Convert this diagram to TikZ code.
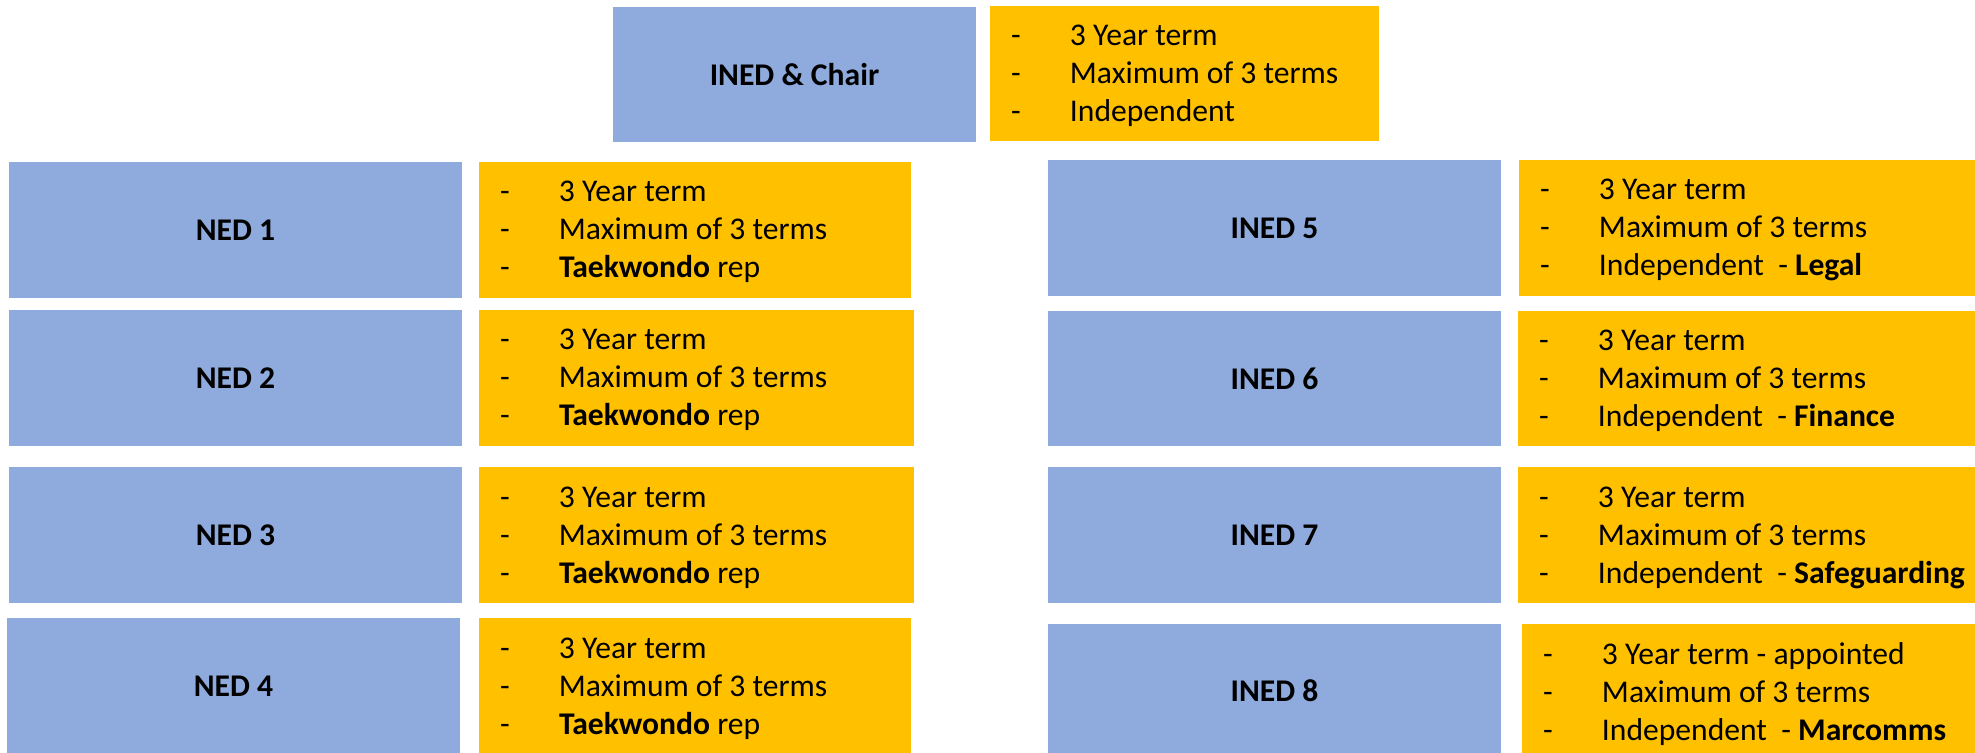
\documentclass[tikz,border=0pt]{standalone}
\usepackage{fontspec}
\setmainfont{Carlito}
\usetikzlibrary{fit,calc}
\definecolor{boxblue}{RGB}{143,170,220}
\definecolor{boxorange}{RGB}{255,192,0}
\newcommand\trio[3]{\begin{tabular}[t]{@{}l@{}l@{}}\makebox[29.5pt][l]{-}&#1\\\makebox[29.5pt][l]{-}&#2\\\makebox[29.5pt][l]{-}&#3\end{tabular}}
\tikzset{
  bluebox/.style={fill=boxblue,draw=none,inner sep=0pt,outer sep=0pt,
    label={[inner sep=0pt,font=\fontsize{15.8pt}{19pt}\selectfont\bfseries]center:#1}},
  orangebox/.style={fill=boxorange,draw=none,inner sep=0pt,outer sep=0pt},
  itemtext/.style={inner sep=0pt,outer sep=0pt,anchor=base west,font=\fontsize{15.8pt}{19pt}\selectfont}
}
\begin{document}
\begin{tikzpicture}[x=0.5pt,y=-0.5pt]
\useasboundingbox[fill=white] (0,0) rectangle (1975,753);
% top
\node[bluebox={INED \& Chair},fit={(613,7) (976,142)}] (chair) {};
\node[orangebox,fit={(990,6) (1379,141)}] (ochair) {};
\node[itemtext] (tchair) at ($(ochair.north west)+(21,40)$) {\trio{3 Year term}{Maximum of 3 terms}{Independent}};
% left column
\node[bluebox={NED 1},fit={(9,162) (462,298)}] (ned1) {};
\node[orangebox,fit={(479,162) (911,298)}] (oned1) {};
\node[itemtext] (tned1) at ($(oned1.north west)+(21,40)$) {\trio{3 Year term}{Maximum of 3 terms}{\textbf{Taekwondo} rep}};
\node[bluebox={NED 2},fit={(9,310) (462,446)}] (ned2) {};
\node[orangebox,fit={(479,310) (914,446)}] (oned2) {};
\node[itemtext] (tned2) at ($(oned2.north west)+(21,40)$) {\trio{3 Year term}{Maximum of 3 terms}{\textbf{Taekwondo} rep}};
\node[bluebox={NED 3},fit={(9,467) (462,603)}] (ned3) {};
\node[orangebox,fit={(479,467) (914,603)}] (oned3) {};
\node[itemtext] (tned3) at ($(oned3.north west)+(21,40)$) {\trio{3 Year term}{Maximum of 3 terms}{\textbf{Taekwondo} rep}};
\node[bluebox={NED 4},fit={(7,618) (460,755)}] (ned4) {};
\node[orangebox,fit={(479,618) (911,755)}] (oned4) {};
\node[itemtext] (tned4) at ($(oned4.north west)+(21,40)$) {\trio{3 Year term}{Maximum of 3 terms}{\textbf{Taekwondo} rep}};
% right column
\node[bluebox={INED 5},fit={(1048,160) (1501,296)}] (ined5) {};
\node[orangebox,fit={(1519,160) (1977,296)}] (oined5) {};
\node[itemtext] (tined5) at ($(oined5.north west)+(21,40)$) {\trio{3 Year term}{Maximum of 3 terms}{Independent\ \ - \textbf{Legal}}};
\node[bluebox={INED 6},fit={(1048,311) (1501,446)}] (ined6) {};
\node[orangebox,fit={(1518,311) (1977,446)}] (oined6) {};
\node[itemtext] (tined6) at ($(oined6.north west)+(21,40)$) {\trio{3 Year term}{Maximum of 3 terms}{Independent\ \ - \textbf{Finance}}};
\node[bluebox={INED 7},fit={(1048,467) (1501,603)}] (ined7) {};
\node[orangebox,fit={(1518,467) (1977,603)}] (oined7) {};
\node[itemtext] (tined7) at ($(oined7.north west)+(21,40)$) {\trio{3 Year term}{Maximum of 3 terms}{Independent\ \ - \textbf{Safeguarding}}};
\node[bluebox={INED 8},fit={(1048,624) (1501,757)}] (ined8) {};
\node[orangebox,fit={(1522,624) (1977,755)}] (oined8) {};
\node[itemtext] (tined8) at ($(oined8.north west)+(21,40)$) {\trio{3 Year term - appointed}{Maximum of 3 terms}{Independent\ \ - \textbf{Marcomms}}};
\end{tikzpicture}
\end{document}
